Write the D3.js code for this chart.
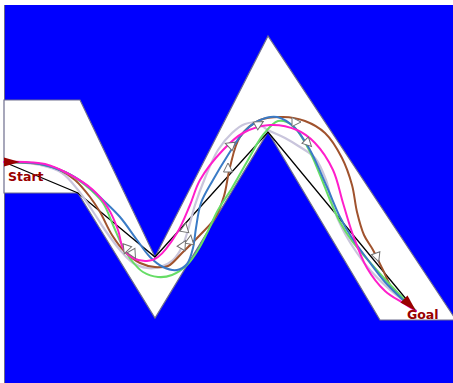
<!DOCTYPE html>
<html>
<head>
<meta charset="utf-8">
<script src="https://cdn.jsdelivr.net/npm/d3@7"></script>
<style>
  html, body { margin: 0; padding: 0; background: #ffffff; }
  svg { display: block; }
</style>
</head>
<body>
<svg id="chart" width="453" height="383"></svg>
<script>
// Field extent in world units
const fieldX = [0, 453];
const fieldY = [0, 383];
const fieldTop = 5;
const fieldLeft = 4;

// Free corridor (white) outline
const corridor = [
  [4, 100], [80, 100], [155, 257], [268, 36], [456, 320],
  [380, 320], [268, 132], [155, 318], [78, 193], [4, 193]
];

// Start / goal positions
const startPoint = [4, 162];
const goalPoint = [416, 311];

// Shortest path through corridor corners
const shortestPath = [[4, 162], [78, 193], [155, 257], [268, 132], [416, 311]];

// Smoothed trajectories
const grayPath = [
  [4, 162], [40, 165], [62, 173], [78, 190], [92, 210], [105, 230], [120, 250],
  [133, 263], [147, 268], [160, 267], [173, 260], [182, 247], [188, 230],
  [195, 205], [205, 178], [218, 150], [232, 133], [245, 124], [257, 123],
  [268, 130], [285, 138], [300, 147], [315, 158], [326, 180], [333, 207],
  [343, 230], [357, 253], [370, 270], [388, 288], [405, 302], [416, 311]
];
const brownPath = [
  [4, 162], [40, 164], [60, 170], [75, 180], [90, 197], [100, 212], [112, 235],
  [125, 252], [140, 263], [155, 267], [168, 266], [182, 253], [200, 235],
  [215, 218], [224, 196], [230, 167], [240, 137], [260, 120], [283, 117],
  [305, 121], [325, 133], [342, 158], [352, 185], [357, 212], [364, 235],
  [373, 250], [383, 270], [392, 288], [405, 301], [416, 311]
];
const greenPath = [
  [4, 162], [40, 164], [65, 172], [85, 185], [103, 203], [113, 225], [122, 245],
  [132, 261], [143, 272], [158, 277], [172, 275], [187, 265], [198, 250],
  [207, 233], [218, 210], [232, 188], [248, 160], [263, 135], [278, 121],
  [292, 125], [308, 148], [320, 175], [330, 200], [340, 222], [352, 241],
  [367, 259], [383, 277], [400, 295], [416, 311]
];
const bluePath = [
  [4, 162], [40, 164], [65, 172], [85, 184], [103, 200], [120, 217], [137, 240],
  [150, 257], [163, 267], [177, 270], [187, 264], [193, 248], [196, 228],
  [201, 203], [213, 180], [228, 155], [243, 133], [258, 121], [277, 117],
  [295, 128], [310, 150], [327, 187], [340, 217], [352, 238], [368, 260],
  [385, 282], [402, 299], [416, 311]
];
const pinkPath = [
  [4, 162], [25, 162], [45, 164], [67, 173], [93, 190], [108, 208], [118, 230],
  [123, 248], [133, 258], [147, 261], [158, 257], [177, 233], [190, 205],
  [200, 180], [223, 150], [243, 133], [270, 125], [297, 130], [315, 143],
  [333, 170], [343, 203], [353, 235], [367, 268], [385, 291], [403, 303], [416, 311]
];

const trajectories = [
  { name: "gray", color: "#c9c5dc", width: 2.2, points: grayPath },
  { name: "brown", color: "#a0522d", width: 2, points: brownPath },
  { name: "green", color: "#66dd66", width: 2, points: greenPath },
  { name: "blue", color: "#3a7bc6", width: 2, points: bluePath },
  { name: "pink", color: "#ff1ecb", width: 2, points: pinkPath }
];

// Heading markers: position and direction (degrees)
const headings = [
  [126, 249, 110], [133, 254, 60], [185, 228, -80], [190, 240, -80],
  [183, 245, -60], [230, 145, 200], [228, 168, -90], [259, 124, -30],
  [296, 122, 0], [308, 143, 45], [377, 257, 70]
];

const labels = [
  { text: "Start", x: 8, y: 181 },
  { text: "Goal", x: 407, y: 319 }
];

const svg = d3.select("#chart");
const W = 453, H = 383;
const x = d3.scaleLinear().domain(fieldX).range([0, W]);
const y = d3.scaleLinear().domain(fieldY).range([0, H]);

// Obstacle background
svg.append("rect")
  .attr("x", x(fieldLeft)).attr("y", y(fieldTop))
  .attr("width", x(fieldX[1]) - x(fieldLeft))
  .attr("height", y(fieldY[1]) - y(fieldTop))
  .attr("fill", "#0000ff");
svg.append("line")
  .attr("x1", x(fieldLeft) + 0.5).attr("x2", x(fieldLeft) + 0.5)
  .attr("y1", y(fieldTop)).attr("y2", y(fieldY[1]))
  .attr("stroke", "#6a6a8a").attr("stroke-width", 1);

// Free corridor
svg.append("path")
  .attr("d", d3.line().x(d => x(d[0])).y(d => y(d[1]))(corridor) + "Z")
  .attr("fill", "#ffffff")
  .attr("stroke", "#6e6e8e")
  .attr("stroke-width", 1.2);

// Shortest path
svg.append("path")
  .attr("d", d3.line().x(d => x(d[0])).y(d => y(d[1]))(shortestPath))
  .attr("fill", "none")
  .attr("stroke", "#000000")
  .attr("stroke-width", 1.3);

// Trajectories
const smooth = d3.line()
  .x(d => x(d[0])).y(d => y(d[1]))
  .curve(d3.curveCatmullRom.alpha(0.5));
svg.selectAll("path.traj")
  .data(trajectories)
  .join("path")
  .attr("class", "traj")
  .attr("d", d => smooth(d.points))
  .attr("fill", "none")
  .attr("stroke", d => d.color)
  .attr("stroke-width", d => d.width)
  .attr("stroke-linecap", "round");

// Heading markers
svg.selectAll("path.heading")
  .data(headings)
  .join("path")
  .attr("class", "heading")
  .attr("d", "M5,0 L-4,-4.5 L-4,4.5 Z")
  .attr("transform", d => `translate(${x(d[0])},${y(d[1])}) rotate(${d[2]})`)
  .attr("fill", "#ffffff")
  .attr("stroke", "#707070")
  .attr("stroke-width", 1);

// Start and goal arrows
const arrowColor = "#990000";
svg.append("path")
  .attr("d", `M${x(startPoint[0])},${y(startPoint[1]) - 4.5} L${x(startPoint[0]) + 16},${y(startPoint[1])} L${x(startPoint[0])},${y(startPoint[1]) + 4.5} Z`)
  .attr("fill", arrowColor);
const gdx = 12, gdy = 12;
const glen = Math.hypot(gdx, gdy);
const ux = gdx / glen, uy = gdy / glen;
const gx = x(goalPoint[0]), gy = y(goalPoint[1]);
const bx = gx - ux * 17, by = gy - uy * 17;
svg.append("path")
  .attr("d", `M${gx},${gy} L${bx - uy * 5},${by + ux * 5} L${bx + uy * 5},${by - ux * 5} Z`)
  .attr("fill", arrowColor);

svg.selectAll("text.lbl")
  .data(labels)
  .join("text")
  .attr("class", "lbl")
  .attr("x", d => x(d.x))
  .attr("y", d => y(d.y))
  .attr("fill", arrowColor)
  .attr("font-family", "DejaVu Sans, Verdana, sans-serif")
  .attr("font-weight", "bold")
  .attr("font-size", 12.5)
  .text(d => d.text);
</script>
</body>
</html>
